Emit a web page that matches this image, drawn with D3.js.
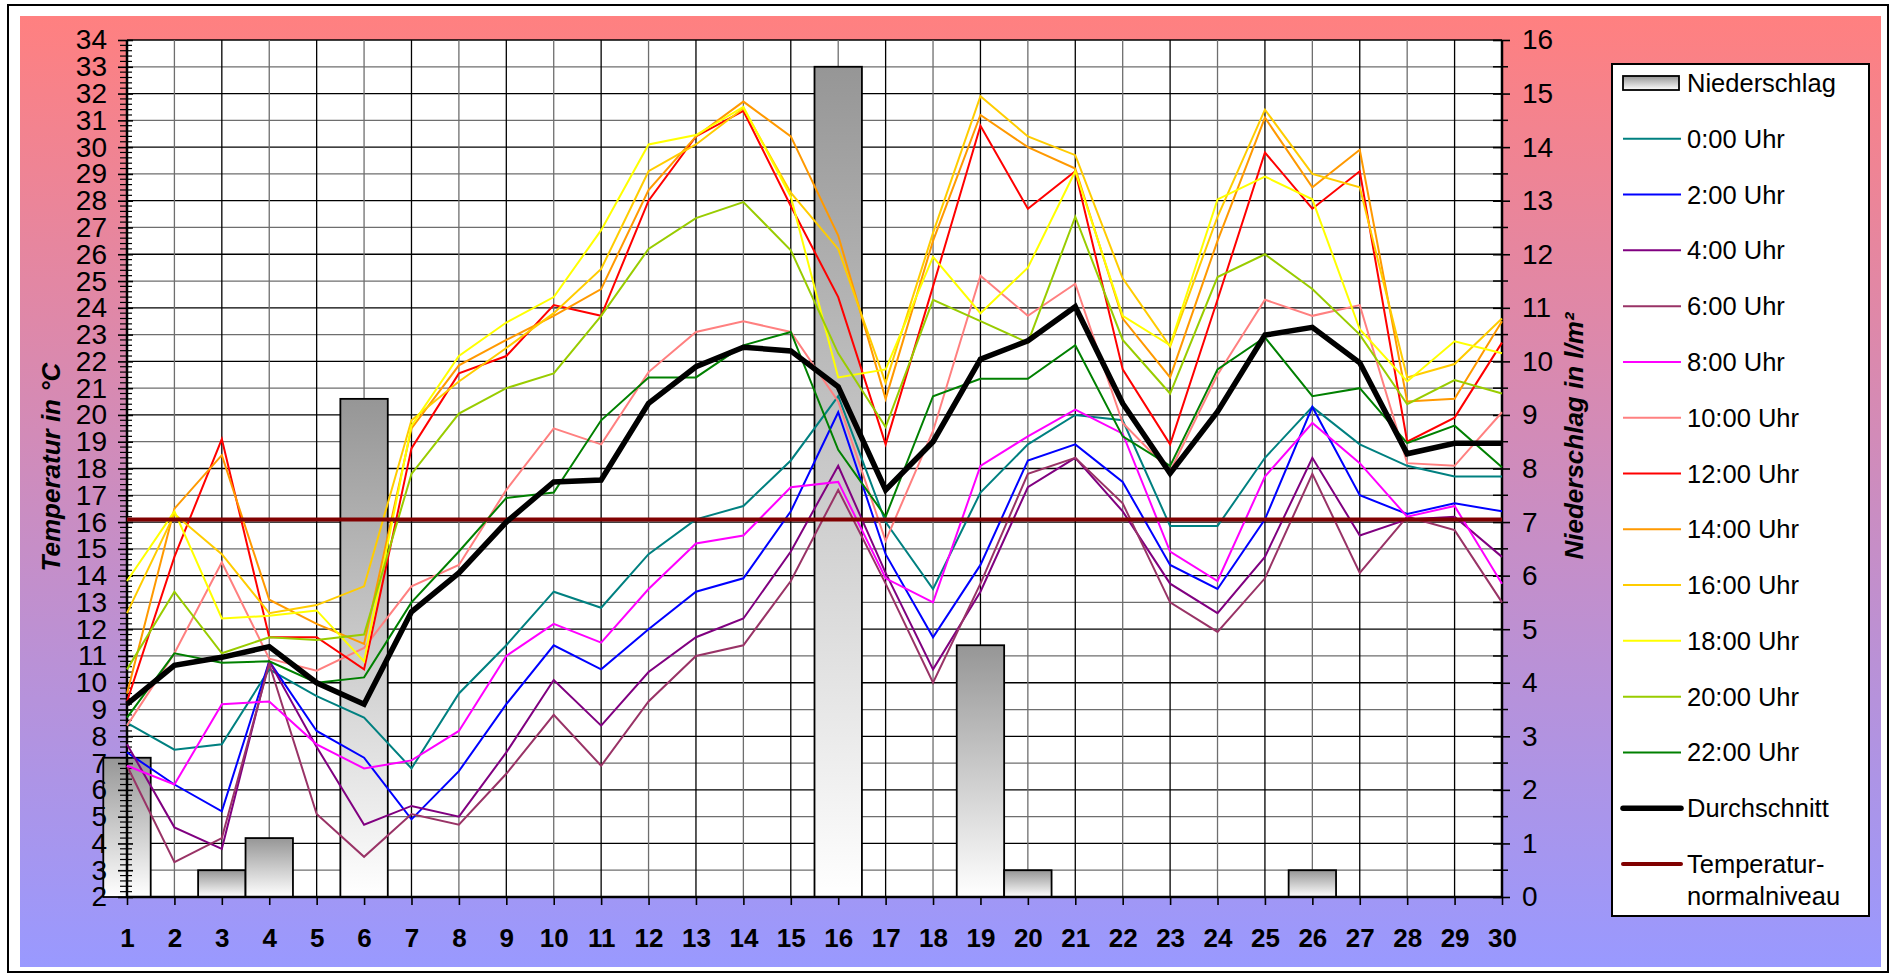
<!DOCTYPE html>
<html>
<head>
<meta charset="utf-8">
<script src="https://cdn.jsdelivr.net/npm/d3@7"></script>
<style>
  body { margin: 0; background: #fff; }
  svg { display: block; font-family: Arial, "Liberation Sans", sans-serif; }
</style>
</head>
<body>
<svg id="canvas" width="1890" height="974"></svg>
<script>
(function() {

// days of the month
var days = d3.range(1, 31)

// precipitation in l/m2 (right axis)
var niederschlag = [2.6,0,0.5,1.1,0,9.3,0,0,0,0,0,0,0,0,0,15.5,0,0,4.7,0.5,0,0,0,0,0,0.5,0,0,0,0]

// temperatures per hour (left axis)
var t00 = [8.5,7.5,7.7,10.5,9.5,8.7,6.8,9.6,11.4,13.4,12.8,14.8,16.1,16.6,18.3,20.7,16.0,13.5,17.1,18.9,20.0,19.8,15.85,15.85,18.4,20.3,18.9,18.1,17.7,17.7]
var t02 = [7.4,6.2,5.2,10.8,8.2,7.2,4.9,6.7,9.2,11.4,10.5,12.0,13.4,13.9,16.4,20.1,14.8,11.7,14.4,18.3,18.9,17.5,14.4,13.5,16.1,20.3,17.0,16.3,16.7,16.4]
var t04 = [7.7,4.6,3.8,10.8,7.6,4.7,5.4,5.0,7.4,10.1,8.4,10.4,11.7,12.4,14.9,18.1,14.1,10.5,13.4,17.3,18.4,16.4,13.7,12.6,14.7,18.4,15.5,16.1,16.2,14.7]
var t06 = [6.9,3.3,4.2,10.7,5.1,3.5,5.1,4.7,6.6,8.8,6.9,9.3,11.0,11.4,13.8,17.2,13.7,10.0,13.7,17.8,18.4,16.7,13.0,11.9,13.9,17.8,14.1,16.2,15.7,13.0]
var t08 = [6.9,6.2,9.2,9.3,7.7,6.8,7.1,8.2,11.0,12.2,11.5,13.5,15.2,15.5,17.3,17.5,13.9,13.0,18.1,19.2,20.2,19.3,14.9,13.8,17.7,19.7,18.2,16.2,16.6,13.7]
var t10 = [8.4,11.1,14.5,10.9,10.45,11.3,13.6,14.4,17.2,19.5,18.9,21.6,23.1,23.5,23.1,20.5,15.3,19.4,25.2,23.7,24.9,19.7,17.9,21.5,24.3,23.7,24.1,18.2,18.1,20.1]
var t12 = [9.3,14.7,19.1,11.7,11.7,10.5,18.75,21.55,22.2,24.1,23.7,28.0,30.4,31.35,27.8,24.4,18.9,24.8,30.8,27.7,29.1,21.7,18.9,24.3,29.8,27.7,29.1,19.0,19.9,22.7]
var t14 = [9.6,16.5,18.5,13.1,12.2,11.45,19.5,21.85,22.8,23.7,24.7,28.4,30.4,31.7,30.4,26.7,20.6,26.5,31.2,30.0,29.2,23.6,21.4,26.5,31.1,28.5,29.9,20.5,20.6,23.5]
var t16 = [12.6,16.3,14.8,12.6,12.9,13.6,19.8,21.25,22.5,23.8,25.45,29.1,30.1,31.45,28.3,26.2,21.2,26.8,31.9,30.4,29.7,25.1,22.55,27.4,31.4,29.0,28.5,21.4,21.9,23.6]
var t18 = [13.8,16.4,12.4,12.5,12.7,10.8,19.6,22.2,23.45,24.4,26.9,30.1,30.45,31.5,28.15,21.4,21.7,25.9,23.8,25.5,29.1,23.7,22.6,28.05,28.9,28.05,23.2,21.25,22.75,22.3]
var t20 = [10.5,13.4,11.1,11.7,11.6,11.8,17.8,20.05,21.0,21.55,23.7,26.2,27.35,27.95,26.15,22.3,19.55,24.3,23.5,22.7,27.4,22.8,20.8,25.15,26.0,24.7,23.0,20.4,21.3,20.8]
var t22 = [8.7,11.1,10.75,10.8,10.0,10.2,13.0,14.9,16.9,17.1,19.8,21.4,21.4,22.6,23.1,18.7,16.2,20.7,21.35,21.35,22.6,19.2,18.1,21.7,22.9,20.7,21.0,18.95,19.6,18.05]
var durchschnitt = [9.2,10.65,10.95,11.35,10.0,9.2,12.65,14.1,16.0,17.5,17.57,20.43,21.8,22.53,22.39,21.05,17.2,19.0,22.08,22.77,24.04,20.43,17.82,20.12,22.98,23.27,21.95,18.55,18.94,18.94]
var normalniveau = 16.1

var seriesNames = ["0:00 Uhr","2:00 Uhr","4:00 Uhr","6:00 Uhr","8:00 Uhr","10:00 Uhr","12:00 Uhr","14:00 Uhr","16:00 Uhr","18:00 Uhr","20:00 Uhr","22:00 Uhr"]
var seriesValues = [t00,t02,t04,t06,t08,t10,t12,t14,t16,t18,t20,t22]
var seriesColors = ["#008080","#0000ff","#800080","#993366","#ff00ff","#ff8080","#ff0000","#ff9900","#ffcc00","#ffff00","#99cc00","#008000"]

var width = 1890, height = 974
var left = 127, right = 1502, top = 40, bottom = 897

var svg = d3.select("#canvas")
var defs = svg.append("defs")

var bg = defs.append("linearGradient").attr("id","bg").attr("x1",0).attr("y1",0).attr("x2",0).attr("y2",1)
bg.append("stop").attr("offset","0%").attr("stop-color","#ff8080")
bg.append("stop").attr("offset","100%").attr("stop-color","#9999ff")

var barGrad = defs.append("linearGradient").attr("id","bargrad").attr("x1",0).attr("y1",0).attr("x2",0).attr("y2",1)
barGrad.append("stop").attr("offset","0%").attr("stop-color","#969696")
barGrad.append("stop").attr("offset","100%").attr("stop-color","#ffffff")

// outer frame + chart area
svg.append("rect").attr("x",8).attr("y",5).attr("width",1880).attr("height",967)
  .attr("fill","#fff").attr("stroke","#000").attr("stroke-width",2)
svg.append("rect").attr("x",20).attr("y",16).attr("width",1861).attr("height",951).attr("fill","url(#bg)")

var x = d3.scaleLinear().domain([1, 30]).range([left, right])
var yT = d3.scaleLinear().domain([2, 34]).range([bottom, top])
var yP = d3.scaleLinear().domain([0, 16]).range([bottom, top])
var step = x(2) - x(1)

// plot area
svg.append("rect").attr("x",left).attr("y",top).attr("width",right-left).attr("height",bottom-top).attr("fill","#fff")

var grid = svg.append("g").attr("stroke","#1a1a1a").attr("stroke-width",1.3)
grid.selectAll("line.h").data(d3.range(3, 35)).join("line")
  .attr("x1",left).attr("x2",right).attr("y1",d => yT(d)).attr("y2",d => yT(d))
  .attr("stroke", d => d % 2 ? "#6e6e6e" : "#000")
grid.selectAll("line.v").data(days.slice(1, 29)).join("line")
  .attr("y1",top).attr("y2",bottom).attr("x1",d => x(d)).attr("x2",d => x(d))
  .attr("stroke", d => d % 2 ? "#000" : "#6e6e6e")

// precipitation bars
svg.append("g").selectAll("rect")
  .data(days.filter((d, i) => niederschlag[i] > 0))
  .join("rect")
  .attr("x", d => x(d) - step / 2)
  .attr("width", step)
  .attr("y", d => yP(niederschlag[d - 1]))
  .attr("height", d => yP(0) - yP(niederschlag[d - 1]))
  .attr("fill","url(#bargrad)")
  .attr("stroke","#000").attr("stroke-width",1.8)

// axes
var axL = svg.append("g").attr("transform","translate("+left+",0)")
  .call(d3.axisLeft(yT).tickValues(d3.range(2, 35)).tickSize(9).tickPadding(11).tickFormat(d3.format("d")))
axL.select(".domain").remove()
axL.selectAll(".tick line").attr("x1",6).attr("stroke-width",1.6)
axL.selectAll("text").attr("font-size",28).attr("fill","#000")
axL.append("g").selectAll("line").data(d3.range(2, 34, 0.2).filter(v => Math.abs(v - Math.round(v)) > 0.01)).join("line")
  .attr("x1",-7).attr("x2",5).attr("y1",d => yT(d)).attr("y2",d => yT(d)).attr("stroke","#000").attr("stroke-width",1.2)
axL.append("line").attr("y1",top).attr("y2",bottom).attr("stroke","#000").attr("stroke-width",2.5)

var axR = svg.append("g").attr("transform","translate("+right+",0)")
  .call(d3.axisRight(yP).tickValues(d3.range(0, 17)).tickSize(8).tickPadding(12).tickFormat(d3.format("d")))
axR.select(".domain").remove()
axR.selectAll(".tick line").attr("x1",-9).attr("stroke-width",1.6)
axR.selectAll("text").attr("font-size",28).attr("fill","#000")
axR.append("g").selectAll("line").data(d3.range(0.5, 16, 1)).join("line")
  .attr("x1",-9).attr("x2",6).attr("y1",d => yP(d)).attr("y2",d => yP(d)).attr("stroke","#000").attr("stroke-width",1.5)
axR.append("line").attr("y1",top).attr("y2",bottom).attr("stroke","#000").attr("stroke-width",2.5)

var axB = svg.append("g").attr("transform","translate(0,"+bottom+")")
  .call(d3.axisBottom(x).tickValues(days).tickSize(8).tickPadding(24).tickFormat(d3.format("d")))
axB.select(".domain").remove()
axB.selectAll(".tick line").attr("stroke-width",1.6)
axB.selectAll("text").attr("font-size",26).attr("font-weight","bold").attr("fill","#000")
axB.append("line").attr("x1",left).attr("x2",right).attr("stroke","#000").attr("stroke-width",2.5)

// axis titles
svg.append("text").attr("transform","translate(60,467) rotate(-90)")
  .attr("text-anchor","middle").attr("font-size",26).attr("font-weight","bold").attr("font-style","italic")
  .text("Temperatur in °C")
svg.append("text").attr("transform","translate(1583,436) rotate(-90)")
  .attr("text-anchor","middle").attr("font-size",26).attr("font-weight","bold").attr("font-style","italic")
  .text("Niederschlag in l/m²")

// lines
var line = d3.line().x((d, i) => x(days[i])).y(d => yT(d))

svg.append("g").selectAll("path").data(seriesValues).join("path")
  .attr("d", d => line(d))
  .attr("fill","none")
  .attr("stroke", (d, i) => seriesColors[i])
  .attr("stroke-width", 2)

svg.append("line")
  .attr("x1", x(1)).attr("x2", x(30)).attr("y1", yT(normalniveau)).attr("y2", yT(normalniveau))
  .attr("stroke","#800000").attr("stroke-width",4)

svg.append("path").attr("d", line(durchschnitt))
  .attr("fill","none").attr("stroke","#000").attr("stroke-width",5.5).attr("stroke-linejoin","miter")

// legend
var lg = svg.append("g")
lg.append("rect").attr("x",1612).attr("y",64).attr("width",257).attr("height",852)
  .attr("fill","#fff").attr("stroke","#000").attr("stroke-width",2)

var legendItems = [{name:"Niederschlag", type:"bar"}]
  .concat(seriesNames.map((n, i) => ({name:n, color:seriesColors[i], w:2})))
  .concat([{name:"Durchschnitt", color:"#000", w:5.5}, {name:"Temperatur-", name2:"normalniveau", color:"#800000", w:4}])

var ly = d3.scaleLinear().domain([0, 14]).range([83, 864])
legendItems.forEach(function(it, i) {
  var cy = ly(i)
  if (it.type == "bar") {
    lg.append("rect").attr("x",1623).attr("y",cy-7).attr("width",56).attr("height",14)
      .attr("fill","url(#bargrad)").attr("stroke","#000").attr("stroke-width",1.8)
  } else {
    lg.append("line").attr("x1",1623).attr("x2",1681).attr("y1",cy).attr("y2",cy)
      .attr("stroke",it.color).attr("stroke-width",it.w).attr("stroke-linecap", it.w > 3 ? "round" : "butt")
  }
  lg.append("text").attr("x",1687).attr("y",cy+9).attr("font-size",25.5).text(it.name)
  if (it.name2) lg.append("text").attr("x",1687).attr("y",cy+41).attr("font-size",25.5).text(it.name2)
})

})();
</script>
</body>
</html>
